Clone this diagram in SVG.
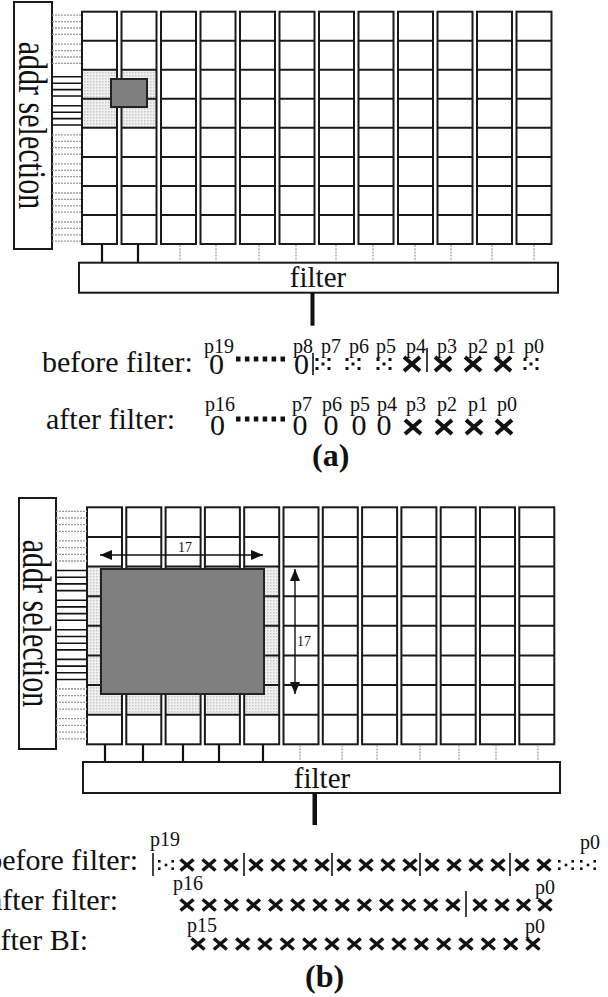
<svg xmlns="http://www.w3.org/2000/svg" xmlns:xlink="http://www.w3.org/1999/xlink" width="608" height="997" viewBox="0 0 608 997">
<style>
.t{font-family:"Liberation Serif","Times New Roman",serif;fill:#111}
.big{font-size:30px}
.sm{font-size:20px}
.lab{font-size:14px}
.bold{font-weight:bold;font-size:32px}
.box{fill:#fff;stroke:#1a1a1a;stroke-width:2}
.cell{fill:none;stroke:#1a1a1a;stroke-width:2}
.sol{stroke:#111;stroke-width:1.6;fill:none}
.dot{stroke:#9a9a9a;stroke-width:1.3;stroke-dasharray:2 1;fill:none}
.con{stroke:#111;stroke-width:2.2;fill:none}
.cond{stroke:#9a9a9a;stroke-width:1.2;stroke-dasharray:2 1.2;fill:none}
.shade{fill:url(#dots)}
.dark{fill:#7f7f7f;stroke:#222;stroke-width:2}
.bar{stroke:#111;stroke-width:1.6}
.arr{stroke:#111;stroke-width:1.4;fill:none;marker-start:url(#ah);marker-end:url(#ah)}
</style>
<defs>
<pattern id="dots" width="3" height="3" patternUnits="userSpaceOnUse"><rect width="3" height="3" fill="#f0f0f0"/><rect width="1.5" height="1.5" fill="#c6c6c6"/></pattern>
<marker id="ah" viewBox="0 0 12 10" refX="12" refY="5" markerWidth="12" markerHeight="10" markerUnits="userSpaceOnUse" orient="auto-start-reverse"><path d="M0,0 L12,5 L0,10 z" fill="#111"/></marker>
<g id="colA"><rect class="cell" x="0" y="0" width="35" height="232.3"/><path class="cell" d="M0,29.04H35M0,58.08H35M0,87.12H35M0,116.16H35M0,145.2H35M0,174.24H35M0,203.28H35"/></g>
<g id="colB"><rect class="cell" x="0" y="0" width="35" height="237"/><path class="cell" d="M0,29.63H35M0,59.25H35M0,88.88H35M0,118.5H35M0,148.13H35M0,177.75H35M0,207.38H35"/></g>
<g id="xa"><path d="M-8,-7L8,7M-8,7L8,-7" stroke="#111" stroke-width="4"/></g>
<g id="xb"><path d="M-6.5,-5.5L6.5,5.5M-6.5,5.5L6.5,-5.5" stroke="#111" stroke-width="3.5"/></g>
<g id="qa" fill="#111"><rect x="-7.5" y="-6" width="3" height="3"/><rect x="4.5" y="-6" width="3" height="3"/><rect x="-1.5" y="-1.5" width="3" height="3"/><rect x="-7.5" y="3" width="3" height="3"/><rect x="4.5" y="3" width="3" height="3"/></g>
<g id="qb" fill="#111"><rect x="-8" y="-5" width="2.6" height="2.6"/><rect x="5.4" y="-5" width="2.6" height="2.6"/><rect x="-1.3" y="-1.3" width="2.6" height="2.6"/><rect x="-8" y="2.4" width="2.6" height="2.6"/><rect x="5.4" y="2.4" width="2.6" height="2.6"/></g>
</defs>

<!-- ================= (a) ================= -->
<g id="addrA"><rect class="box" x="14" y="2" width="38" height="247"/>
<text class="t big" text-anchor="middle" transform="translate(33,125.5) rotate(90) scale(1,1.3) translate(0,10.8)">addr selection</text></g>

<g id="gridA">
<rect class="shade" x="82" y="69.8" width="35" height="58.1"/>
<rect class="shade" x="121.5" y="69.8" width="35" height="58.1"/>
<use href="#colA" x="82" y="11.7"/><use href="#colA" x="121.5" y="11.7"/><use href="#colA" x="161" y="11.7"/><use href="#colA" x="200.5" y="11.7"/><use href="#colA" x="240" y="11.7"/><use href="#colA" x="279.5" y="11.7"/><use href="#colA" x="319" y="11.7"/><use href="#colA" x="358.5" y="11.7"/><use href="#colA" x="398" y="11.7"/><use href="#colA" x="437.5" y="11.7"/><use href="#colA" x="477" y="11.7"/><use href="#colA" x="516.5" y="11.7"/>
<rect class="dark" x="111" y="79" width="36" height="28"/>
</g>

<g id="filterA"><rect class="box" x="79" y="262.7" width="479" height="30"/>
<text class="t" style="font-size:29px" x="318" y="287" text-anchor="middle">filter</text></g>
<rect id="outA" x="310.5" y="292.7" width="4" height="33" fill="#111"/>

<g id="connectorsA">
<path class="dot" d="M52,15.2H82M52,21.6H82M52,28H82M52,34.4H82M52,44.2H82M52,50.6H82M52,57H82M52,63.4H82"/>
<path class="sol" d="M52,76.8H82M52,83.2H82M52,89.6H82M52,96H82M52,105.8H82M52,112.2H82M52,118.6H82M52,125H82"/>
<path class="dot" d="M52,134.9H82M52,141.3H82M52,147.7H82M52,154.1H82M52,163.9H82M52,170.3H82M52,176.7H82M52,183.1H82M52,193H82M52,199.4H82M52,205.8H82M52,212.2H82M52,222H82M52,228.4H82M52,234.8H82M52,241.2H82"/>
<path class="con" d="M102,244V262.7M138,244V262.7"/>
<path class="cond" d="M180,245V262M216,245V262M259,245V262M296,245V262M336,245V262M373,245V262M415,245V262M451,245V262M492,245V262M534,245V262"/>
</g>

<g id="seqA">
<text class="t big" x="42" y="372">before filter:</text>
<text class="t sm" x="204" y="353">p19</text>
<text class="t big" x="209" y="374">0</text>
<line x1="236" y1="359" x2="285" y2="359" stroke="#111" stroke-width="5" stroke-dasharray="4.5 4.4"/>
<text class="t sm" x="293" y="353">p8</text>
<text class="t big" x="294" y="374">0</text>
<line class="bar" x1="313" y1="353" x2="313" y2="375"/>
<text class="t sm" x="321" y="353">p7</text><text class="t sm" x="349" y="353">p6</text><text class="t sm" x="376" y="353">p5</text><text class="t sm" x="406" y="353">p4</text><text class="t sm" x="437" y="353">p3</text><text class="t sm" x="468" y="353">p2</text><text class="t sm" x="496" y="353">p1</text><text class="t sm" x="524" y="353">p0</text>
<use href="#qa" x="323" y="364"/><use href="#qa" x="353" y="364"/><use href="#qa" x="384" y="364"/>
<use href="#xa" x="412" y="364"/>
<line class="bar" x1="427" y1="348" x2="427" y2="372"/>
<use href="#xa" x="443" y="364"/><use href="#xa" x="473" y="364"/><use href="#xa" x="503" y="364"/>
<use href="#qa" x="531" y="364"/>

<text class="t big" x="46" y="429">after filter:</text>
<text class="t sm" x="205" y="411">p16</text>
<text class="t big" x="210" y="435">0</text>
<line x1="236" y1="419" x2="285" y2="419" stroke="#111" stroke-width="5" stroke-dasharray="4.5 4.4"/>
<text class="t sm" x="292" y="411">p7</text><text class="t sm" x="322" y="411">p6</text><text class="t sm" x="350" y="411">p5</text><text class="t sm" x="377" y="411">p4</text><text class="t sm" x="406" y="411">p3</text><text class="t sm" x="437" y="411">p2</text><text class="t sm" x="468" y="411">p1</text><text class="t sm" x="497" y="411">p0</text>
<text class="t big" x="300" y="435" text-anchor="middle">0</text><text class="t big" x="331" y="435" text-anchor="middle">0</text><text class="t big" x="359" y="435" text-anchor="middle">0</text><text class="t big" x="384" y="435" text-anchor="middle">0</text>
<use href="#xa" x="413" y="427"/><use href="#xa" x="444" y="427"/><use href="#xa" x="474" y="427"/><use href="#xa" x="504" y="427"/>
<text class="t bold" x="312" y="466">(a)</text>
</g>

<!-- ================= (b) ================= -->
<g id="addrB"><rect class="box" x="19" y="498" width="37" height="251"/>
<text class="t big" text-anchor="middle" transform="translate(37.5,623.5) rotate(90) scale(1,1.3) translate(0,10.8)">addr selection</text></g>

<g id="gridB">
<rect class="shade" x="87" y="566.55" width="35" height="148.1"/>
<rect class="shade" x="126.3" y="566.55" width="35" height="148.1"/>
<rect class="shade" x="165.6" y="566.55" width="35" height="148.1"/>
<rect class="shade" x="204.9" y="566.55" width="35" height="148.1"/>
<rect class="shade" x="244.2" y="566.55" width="35" height="148.1"/>
<use href="#colB" x="87" y="507.3"/><use href="#colB" x="126.3" y="507.3"/><use href="#colB" x="165.6" y="507.3"/><use href="#colB" x="204.9" y="507.3"/><use href="#colB" x="244.2" y="507.3"/><use href="#colB" x="283.5" y="507.3"/><use href="#colB" x="322.8" y="507.3"/><use href="#colB" x="362.1" y="507.3"/><use href="#colB" x="401.4" y="507.3"/><use href="#colB" x="440.7" y="507.3"/><use href="#colB" x="480" y="507.3"/><use href="#colB" x="519.3" y="507.3"/>
<rect class="dark" x="101" y="569" width="163" height="125"/>
</g>

<g id="dimensions">
<line class="arr" x1="100" y1="555" x2="263" y2="555"/>
<text class="t lab" x="185" y="552" text-anchor="middle">17</text>
<line class="arr" x1="295" y1="569" x2="295" y2="694"/>
<text class="t lab" x="297" y="646">17</text>
</g>

<g id="filterB"><rect class="box" x="83" y="762" width="477" height="31"/>
<text class="t" style="font-size:29px" x="322" y="788" text-anchor="middle">filter</text></g>
<rect id="outB" x="312.5" y="793" width="4.5" height="32" fill="#111"/>

<g id="connectorsB">
<path class="dot" d="M56,511.3H87M56,518H87M56,524.7H87M56,531.4H87M56,540.9H87M56,547.6H87M56,554.3H87M56,561H87"/>
<path class="sol" d="M56,570.5H87M56,577.2H87M56,583.9H87M56,590.6H87M56,600.2H87M56,606.9H87M56,613.6H87M56,620.3H87M56,629.8H87M56,636.5H87M56,643.2H87M56,649.9H87M56,659.4H87M56,666.1H87M56,672.8H87M56,679.5H87"/>
<path class="dot" d="M56,689H87M56,695.7H87M56,702.4H87M56,709.1H87M56,718.7H87M56,725.4H87M56,732.1H87M56,738.8H87"/>
<path class="con" d="M105,744.3V762M143,744.3V762M183,744.3V762M219,744.3V763M263,744.3V762"/>
<path class="cond" d="M300,745V761M342,745V761M377,745V761M420,745V761M459,745V761M496,745V761M538,745V761"/>
</g>

<g id="seqB">
<text class="t big" x="138" y="870" text-anchor="end">before filter:</text>
<text class="t big" x="118" y="910" text-anchor="end">after filter:</text>
<text class="t big" x="88" y="950" text-anchor="end">after BI:</text>

<text class="t sm" x="150" y="846">p19</text>
<line class="bar" x1="153" y1="853" x2="153" y2="876"/>
<use href="#qb" x="166" y="865"/>
<use href="#xb" x="187" y="865"/><use href="#xb" x="209" y="865"/><use href="#xb" x="231" y="865"/>
<line class="bar" x1="244" y1="853" x2="244" y2="876"/>
<use href="#xb" x="256" y="865"/><use href="#xb" x="278" y="865"/><use href="#xb" x="300" y="865"/><use href="#xb" x="322" y="865"/>
<line class="bar" x1="332" y1="853" x2="332" y2="876"/>
<use href="#xb" x="344" y="865"/><use href="#xb" x="366" y="865"/><use href="#xb" x="388" y="865"/><use href="#xb" x="410" y="865"/>
<line class="bar" x1="420" y1="853" x2="420" y2="876"/>
<use href="#xb" x="432" y="865"/><use href="#xb" x="454" y="865"/><use href="#xb" x="476" y="865"/><use href="#xb" x="498" y="865"/>
<line class="bar" x1="510" y1="853" x2="510" y2="876"/>
<use href="#xb" x="522" y="865"/><use href="#xb" x="544" y="865"/>
<use href="#qb" x="566" y="865"/><use href="#qb" x="588" y="865"/>
<text class="t sm" x="580" y="849">p0</text>

<text class="t sm" x="173" y="890">p16</text>
<use href="#xb" x="187" y="905"/><use href="#xb" x="209.2" y="905"/><use href="#xb" x="231.3" y="905"/><use href="#xb" x="253.5" y="905"/><use href="#xb" x="275.7" y="905"/><use href="#xb" x="297.8" y="905"/><use href="#xb" x="320" y="905"/><use href="#xb" x="342.2" y="905"/><use href="#xb" x="364.3" y="905"/><use href="#xb" x="386.5" y="905"/><use href="#xb" x="408.7" y="905"/><use href="#xb" x="430.8" y="905"/><use href="#xb" x="453" y="905"/>
<line class="bar" x1="466" y1="891" x2="466" y2="917"/>
<use href="#xb" x="480" y="905"/><use href="#xb" x="502" y="905"/><use href="#xb" x="523.5" y="905"/><use href="#xb" x="545" y="905"/>
<text class="t sm" x="535" y="894">p0</text>

<text class="t sm" x="187" y="932">p15</text>
<use href="#xb" x="198" y="944"/><use href="#xb" x="220.3" y="944"/><use href="#xb" x="242.7" y="944"/><use href="#xb" x="265" y="944"/><use href="#xb" x="287.3" y="944"/><use href="#xb" x="309.7" y="944"/><use href="#xb" x="332" y="944"/><use href="#xb" x="354.3" y="944"/><use href="#xb" x="376.7" y="944"/><use href="#xb" x="399" y="944"/><use href="#xb" x="421.3" y="944"/><use href="#xb" x="443.7" y="944"/><use href="#xb" x="466" y="944"/><use href="#xb" x="488.3" y="944"/><use href="#xb" x="510.7" y="944"/><use href="#xb" x="533" y="944"/>
<text class="t sm" x="525" y="933">p0</text>

<text class="t bold" x="305" y="987">(b)</text>
</g>
</svg>
